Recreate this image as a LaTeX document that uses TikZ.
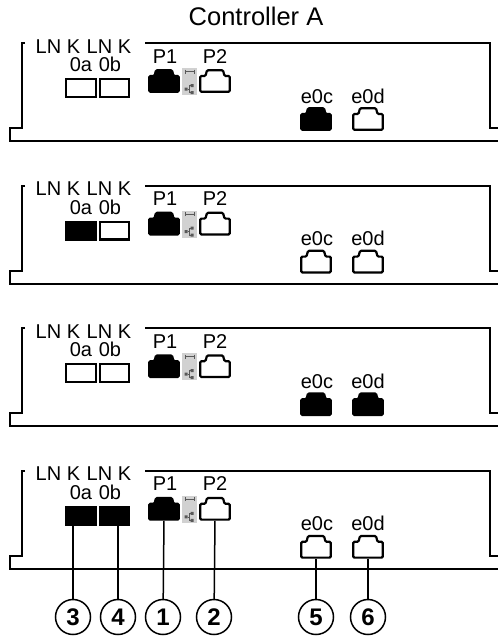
\documentclass[tikz,border=0pt]{standalone}
\usepackage{fontspec}
\setmainfont{Liberation Sans}
\begin{document}
\begin{tikzpicture}[x=1pt,y=-1pt,
    frame/.style={line width=2.2pt},
    lnk/.style={rectangle,draw=black,line width=2.2pt,minimum width=29.6pt,minimum height=17.8pt,inner sep=0pt},
    lbl/.style={inner sep=0pt,anchor=base,font=\fontsize{20}{24}\selectfont},
    callout/.style={circle,draw=black,line width=1.5pt,minimum size=35pt,inner sep=0pt,font=\fontsize{24}{28}\selectfont\bfseries},
    lead/.style={line width=1.5pt},
    rj/.pic={
      \draw[line width=2.2pt,rounded corners=1.2pt,pic actions] (-14.8,10.8) -- (14.8,10.8) -- (14.8,-5) -- (9.5,-5) -- (8,-10.8) -- (-8,-10.8) -- (-9.5,-5) -- (-14.8,-5) -- cycle;
      \coordinate (-s) at (0,12);
    }]
  \useasboundingbox (0,0) rectangle (498,638);

  \node[inner sep=0pt,anchor=base,font=\fontsize{25.5}{30}\selectfont] (title) at (256,25) {Controller A};

  % one controller view per row: fill of 0a, 0b, e0c, e0d
  \foreach \n/\dy/\fa/\fb/\fc/\fd in {1/0/white/white/black/white,
      2/142.6/black/white/white/white,
      3/285.2/white/white/black/black,
      4/427.8/black/black/white/white}{
    \begin{scope}[shift={(0,\dy)}]
      \draw[frame] (25,43) -- (22,43) -- (22,128) -- (10,128) -- (10,141) -- (498,141);
      \draw[frame] (145,43) -- (490,43) -- (490,128) -- (498,128);

      \node[lbl,anchor=base west] (lna-\n) at (35.5,53) {LN K};
      \node[lbl,anchor=base west] (lnb-\n) at (86.5,53) {LN K};
      \node[lbl] (l0a-\n) at (81,71.5) {0a};
      \node[lbl] (l0b-\n) at (110,71.5) {0b};
      \node[lnk,fill=\fa] (a-\n) at (81,88) {};
      \node[lnk,fill=\fb] (b-\n) at (114.5,88) {};

      \node[lbl] (lp1-\n) at (165,63) {P1};
      \node[lbl] (lp2-\n) at (215,63) {P2};
      \pic[fill=black] (p1-\n) at (164,81) {rj};
      \pic[fill=white] (p2-\n) at (215,81) {rj};

      \node[rectangle,fill=black!18,minimum width=15pt,minimum height=27pt,inner sep=0pt] (ic-\n) at (189.5,81.5) {};
      \draw[black!65,line width=0.9pt] (185,71.5) -- (194,71.5);
      \draw[black!65,line width=0.9pt] (185,69.5) -- (185,73.5) (194,69.5) -- (194,73.5);
      \fill[black!65] (184.5,87.5) rectangle +(3,3) (190.5,84) rectangle +(3,3) (190.5,91) rectangle +(3,3);
      \draw[black!65,line width=0.6pt] (187.5,89) -- (189,89) (189,85.5) -- (189,92.5) -- (190.5,92.5) (189,85.5) -- (190.5,85.5);

      \node[lbl] (le0c-\n) at (317,103) {e0c};
      \node[lbl] (le0d-\n) at (368,103) {e0d};
      \pic[fill=\fc] (e0c-\n) at (316,119) {rj};
      \pic[fill=\fd] (e0d-\n) at (368,119) {rj};
    \end{scope}
  }

  \node[callout] (c3) at (73,617) {3};
  \node[callout] (c4) at (118,617) {4};
  \node[callout] (c1) at (163,617) {1};
  \node[callout] (c2) at (214,617) {2};
  \node[callout] (c5) at (316,617) {5};
  \node[callout] (c6) at (368,617) {6};

  \draw[lead] (c3 |- a-4.south) -- (c3);
  \draw[lead] (c4 |- b-4.south) -- (c4);
  \draw[lead] (p1-4-s) -- (c1);
  \draw[lead] (p2-4-s) -- (c2);
  \draw[lead] (e0c-4-s) -- (c5);
  \draw[lead] (e0d-4-s) -- (c6);
\end{tikzpicture}
\end{document}
